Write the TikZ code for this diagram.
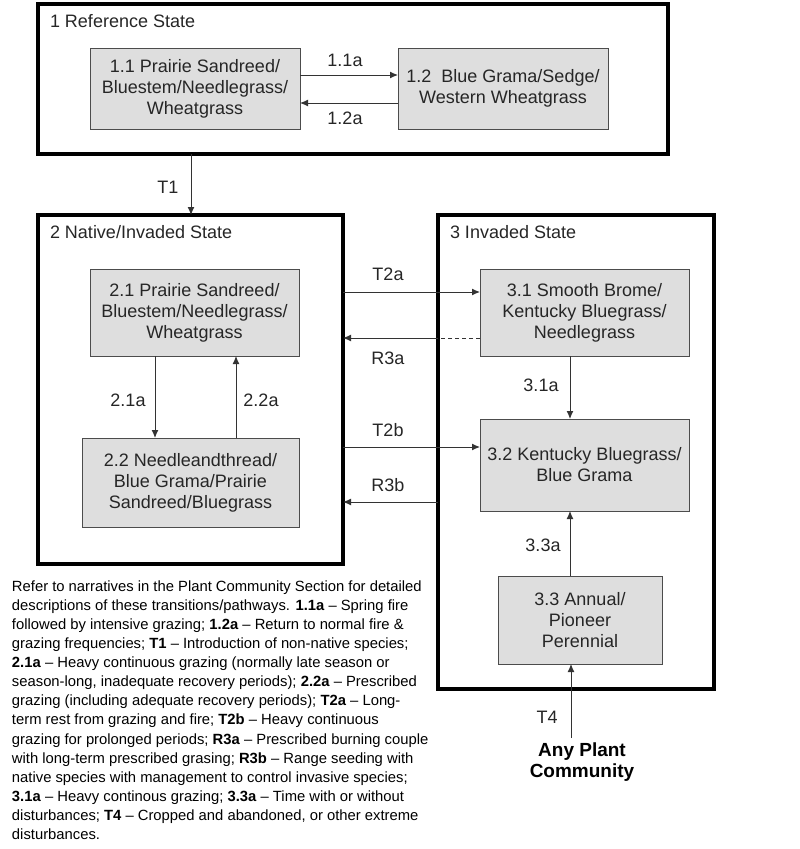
\documentclass[tikz,border=0pt]{standalone}
\usepackage{fontspec}
\setmainfont{Liberation Sans}
\usetikzlibrary{arrows.meta,calc}
\begin{document}
\begin{tikzpicture}[x=1pt,y=-1pt,
  every node/.style={inner sep=0pt,outer sep=0pt},
  comm/.style={draw=black!70,line width=1pt,fill=black!13,align=center,
    font=\fontsize{18}{21}\selectfont,text=black!85},
  statebox/.style={draw=black,line width=4pt},
  statelbl/.style={anchor=west,font=\fontsize{18}{21}\selectfont,text=black!85},
  lbl/.style={font=\fontsize{18}{21}\selectfont,text=black!85},
  arr/.style={draw=black!80,line width=1pt,-{Latex[length=8pt,width=7pt]}},
  ln/.style={draw=black!80,line width=1pt}]
\useasboundingbox (0,0) rectangle (800,849);
% state boxes
\node[statebox,minimum width=630,minimum height=150] (s1) at (353,79) {};
\node[statebox,minimum width=305,minimum height=349] (s2) at (190.5,389.5) {};
\node[statebox,minimum width=276,minimum height=474] (s3) at (576,452) {};
\node[statelbl] (s1l) at (50,21) {1 Reference State};
\node[statelbl] (s2l) at (50,232) {2 Native/Invaded State};
\node[statelbl] (s3l) at (450,232) {3 Invaded State};
% community boxes
\node[comm,minimum width=210,minimum height=81] (b11) at (195,88.5) {1.1 Prairie Sandreed/\\Bluestem/Needlegrass/\\Wheatgrass};
\node[comm,minimum width=210,minimum height=81] (b12) at (503,88.5) {1.2\ \ Blue Grama/Sedge/\\Western Wheatgrass};
\node[comm,minimum width=209,minimum height=87] (b21) at (194.5,312.5) {2.1 Prairie Sandreed/\\Bluestem/Needlegrass/\\Wheatgrass};
\node[comm,minimum width=217,minimum height=89] (b22) at (190.5,482.5) {2.2 Needleandthread/\\Blue Grama/Prairie\\Sandreed/Bluegrass};
\node[comm,minimum width=209,minimum height=87] (b31) at (584.5,312.5) {3.1 Smooth Brome/\\Kentucky Bluegrass/\\Needlegrass};
\node[comm,minimum width=209,minimum height=92] (b32) at (584.5,465) {3.2 Kentucky Bluegrass/\\Blue Grama};
\node[comm,minimum width=164,minimum height=88] (b33) at (580,620) {3.3 Annual/\\Pioneer\\Perennial};
\node[font=\bfseries\fontsize{19}{20.5}\selectfont,align=center] (any) at (582,762) {Any Plant\\Community};
% helper coordinates
\coordinate (y11) at (0,75);
\coordinate (y12) at (0,103);
\coordinate (xT1) at (191,0);
\coordinate (x21) at (155,0);
\coordinate (x22) at (236,0);
\coordinate (yT2a) at (0,292);
\coordinate (yR3a) at (0,338);
\coordinate (yT2b) at (0,447);
\coordinate (yR3b) at (0,502);
\coordinate (x3) at (570,0);
\coordinate (xT4) at (571,0);
\coordinate (t4s) at (571,738);
% connectors
\draw[arr] (b11.east |- y11) -- (b12.west |- y11);
\draw[arr] (b12.west |- y12) -- (b11.east |- y12);
\draw[arr] (s1.south -| xT1) -- (s2.north -| xT1);
\draw[arr] (b21.south -| x21) -- (b22.north -| x21);
\draw[arr] (b22.north -| x22) -- (b21.south -| x22);
\draw[arr] (s2.east |- yT2a) -- (b31.west |- yT2a);
\draw[ln,dashed,dash pattern=on 4pt off 3pt] (b31.west |- yR3a) -- (s3.west |- yR3a);
\draw[arr] (s3.west |- yR3a) -- (s2.east |- yR3a);
\draw[arr] (s2.east |- yT2b) -- (b32.west |- yT2b);
\draw[arr] (s3.west |- yR3b) -- (s2.east |- yR3b);
\draw[arr] (b31.south -| x3) -- (b32.north -| x3);
\draw[arr] (b33.north -| x3) -- (b32.south -| x3);
\draw[arr] (t4s) -- (b33.south -| xT4);
% labels
\node[lbl] (l11) at (345,60) {1.1a};
\node[lbl] (l12) at (345,118) {1.2a};
\node[lbl] (lT1) at (168,187) {T1};
\node[lbl] (l21) at (128,400) {2.1a};
\node[lbl] (l22) at (261,400) {2.2a};
\node[lbl] (lT2a) at (388,274) {T2a};
\node[lbl] (lR3a) at (388,358) {R3a};
\node[lbl] (lT2b) at (388,430) {T2b};
\node[lbl] (lR3b) at (388,485) {R3b};
\node[lbl] (l31) at (541,385) {3.1a};
\node[lbl] (l33) at (543,545) {3.3a};
\node[lbl] (lT4) at (547,717) {T4};
% narrative
\node[anchor=north west,align=left,font=\fontsize{14.8}{19.1}\selectfont] (txt) at (12,580.5) {%
Refer to narratives in the Plant Community Section for detailed\\
descriptions of these transitions/pathways. \textbf{1.1a} -- Spring fire\\
followed by intensive grazing; \textbf{1.2a} -- Return to normal fire \&\\
grazing frequencies; \textbf{T1} -- Introduction of non-native species;\\
\textbf{2.1a} -- Heavy continuous grazing (normally late season or\\
season-long, inadequate recovery periods); \textbf{2.2a} -- Prescribed\\
grazing (including adequate recovery periods); \textbf{T2a} -- Long-\\
term rest from grazing and fire; \textbf{T2b} -- Heavy continuous\\
grazing for prolonged periods; \textbf{R3a} -- Prescribed burning couple\\
with long-term prescribed grasing; \textbf{R3b} -- Range seeding with\\
native species with management to control invasive species;\\
\textbf{3.1a} -- Heavy continous grazing; \textbf{3.3a} -- Time with or without\\
disturbances; \textbf{T4} -- Cropped and abandoned, or other extreme\\
disturbances.};
\end{tikzpicture}
\end{document}
